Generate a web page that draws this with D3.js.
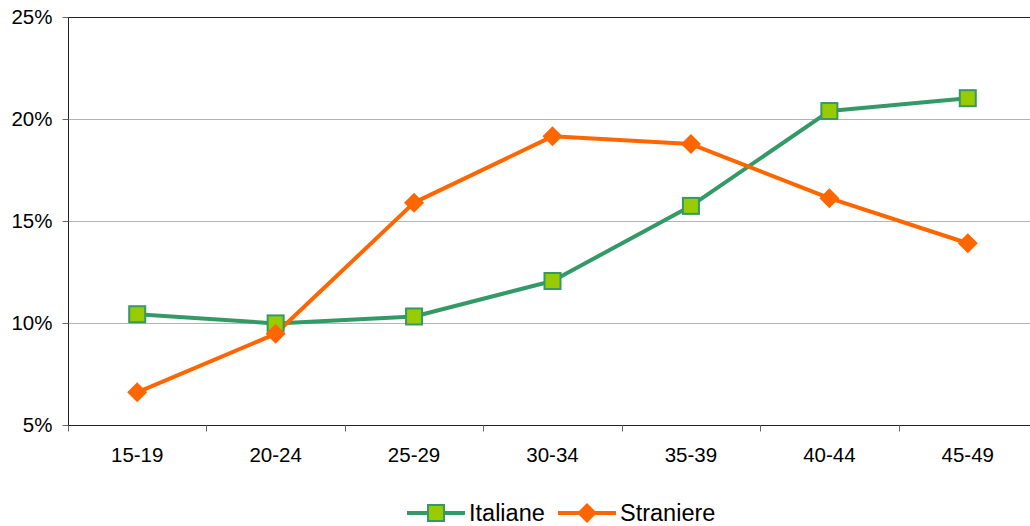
<!DOCTYPE html>
<html><head><meta charset="utf-8">
<script src="https://cdn.jsdelivr.net/npm/d3@7"></script>
<style>body{margin:0;background:#fff}svg{display:block}text{font-family:"Liberation Sans",Arial,sans-serif;fill:#000}</style>
</head><body>
<svg id="c" width="1030" height="526"></svg>
<script>
const categories = ["15-19","20-24","25-29","30-34","35-39","40-44","45-49"];
const italiane = [10.43, 9.98, 10.32, 12.06, 15.74, 20.39, 21.02];
const straniere = [6.6, 9.47, 15.9, 19.15, 18.77, 16.12, 13.91];
const yTicks = [5, 10, 15, 20, 25];

const svg = d3.select("#c");
const pL = 68, pR = 1037, pT = 17, pB = 425;
const x = d3.scaleBand().domain(categories).range([pL, pR]).padding(0);
const y = d3.scaleLinear().domain([5, 25]).range([pB, pT]);
const cx = c => x(c) + x.bandwidth() / 2;

// gridlines
svg.append("g").selectAll("line").data(yTicks.filter(t => t > 5)).join("line")
  .attr("x1", pL).attr("x2", 1030)
  .attr("y1", d => Math.round(y(d)) + 0.5).attr("y2", d => Math.round(y(d)) + 0.5)
  .attr("stroke", d => d === 25 ? "#222" : "#b4b4b4").attr("stroke-width", 1);

// y axis
const ya = svg.append("g").attr("transform", `translate(${pL + 0.5},0)`)
  .call(d3.axisLeft(y).tickValues(yTicks).tickFormat(d => d + "%").tickSize(6).tickPadding(10));
ya.select(".domain").attr("stroke", "#222").attr("d", `M0,${pT}V${pB}`);
ya.selectAll(".tick line").attr("stroke", "#666");
ya.selectAll("text").attr("font-size", 20.5).attr("font-family", "Liberation Sans, Arial, sans-serif").attr("fill", "#000");

// x axis
const xa = svg.append("g").attr("transform", `translate(0,${pB + 0.5})`);
xa.append("line").attr("x1", pL).attr("x2", 1030).attr("stroke", "#222");
const bounds = categories.map(c => x(c)).concat([pR]);
xa.selectAll("line.t").data(bounds).join("line").attr("class", "t")
  .attr("x1", d => Math.round(d) + 0.5).attr("x2", d => Math.round(d) + 0.5)
  .attr("y1", 0).attr("y2", 6).attr("stroke", "#666");
xa.selectAll("text").data(categories).join("text")
  .attr("x", d => cx(d)).attr("y", 36.5).attr("text-anchor", "middle")
  .attr("font-size", 20.5).text(d => d);

const green = "#339966", lime = "#99cc00", orange = "#ff6600";
const line = d3.line().x((d, i) => cx(categories[i])).y(d => y(d));

svg.append("path").datum(italiane).attr("d", line).attr("fill", "none")
  .attr("stroke", green).attr("stroke-width", 4).attr("stroke-linejoin", "round");
svg.append("path").datum(straniere).attr("d", line).attr("fill", "none")
  .attr("stroke", orange).attr("stroke-width", 4).attr("stroke-linejoin", "round");

const sq = 16;
svg.append("g").selectAll("rect").data(italiane).join("rect")
  .attr("x", (d, i) => cx(categories[i]) - sq / 2).attr("y", d => y(d) - sq / 2)
  .attr("width", sq).attr("height", sq)
  .attr("fill", lime).attr("stroke", green).attr("stroke-width", 2);

const dm = 10;
const diamond = `M0,${-dm}L${dm},0L0,${dm}L${-dm},0Z`;
svg.append("g").selectAll("path").data(straniere).join("path")
  .attr("transform", (d, i) => `translate(${cx(categories[i])},${y(d)})`)
  .attr("d", diamond).attr("fill", orange);

// legend
const ly = 513;
const lg = svg.append("g");
lg.append("line").attr("x1", 407).attr("x2", 465).attr("y1", ly).attr("y2", ly)
  .attr("stroke", green).attr("stroke-width", 4);
lg.append("rect").attr("x", 436 - sq / 2).attr("y", ly - sq / 2).attr("width", sq).attr("height", sq)
  .attr("fill", lime).attr("stroke", green).attr("stroke-width", 2);
lg.append("text").attr("x", 469).attr("y", 521).attr("font-size", 23.5).text("Italiane");
lg.append("line").attr("x1", 558).attr("x2", 616).attr("y1", ly).attr("y2", ly)
  .attr("stroke", orange).attr("stroke-width", 4);
lg.append("path").attr("transform", `translate(587,${ly})`).attr("d", diamond).attr("fill", orange);
lg.append("text").attr("x", 620).attr("y", 521).attr("font-size", 23.5).text("Straniere");
</script>
</body></html>
